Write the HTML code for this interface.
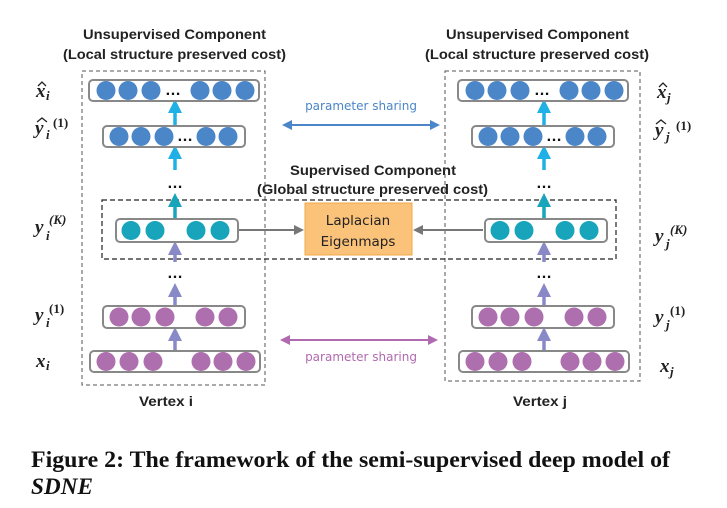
<!DOCTYPE html>
<html><head><meta charset="utf-8"><style>
html,body{margin:0;padding:0;background:#fff;}
svg{display:block;}
.t{font-family:"Liberation Sans",sans-serif;font-weight:bold;font-size:14px;fill:#222;}
.m{font-family:"Liberation Serif",serif;font-style:italic;font-weight:bold;font-size:19px;fill:#222;}
.s{font-family:"Liberation Serif",serif;font-weight:bold;font-size:13px;fill:#222;}
.si{font-family:"Liberation Serif",serif;font-style:italic;font-weight:bold;font-size:13px;fill:#222;}
.ps{font-family:"DejaVu Sans","Liberation Sans",sans-serif;font-size:12px;}
.box{fill:#fff;stroke:#888;stroke-width:2;}
.dots{font-family:"Liberation Sans",sans-serif;font-weight:bold;font-size:16px;fill:#111;}
</style></head><body>
<svg width="727" height="508" viewBox="0 0 727 508" xmlns="http://www.w3.org/2000/svg">
<defs>
<marker id="ac" markerWidth="4" markerHeight="4" refX="2" refY="2" orient="auto" markerUnits="strokeWidth"><path d="M0,0 L4,2 L0,4z" fill="#1fb0e6"/></marker>
<marker id="at" markerWidth="4" markerHeight="4" refX="2" refY="2" orient="auto" markerUnits="strokeWidth"><path d="M0,0 L4,2 L0,4z" fill="#18a4bb"/></marker>
<marker id="ap" markerWidth="4" markerHeight="4" refX="2" refY="2" orient="auto" markerUnits="strokeWidth"><path d="M0,0 L4,2 L0,4z" fill="#8a89c8"/></marker>
<marker id="ag" markerWidth="5" markerHeight="5" refX="3" refY="2.5" orient="auto" markerUnits="strokeWidth"><path d="M0,0 L5,2.5 L0,5z" fill="#777"/></marker>
<marker id="ab" markerWidth="5" markerHeight="5" refX="3" refY="2.5" orient="auto-start-reverse" markerUnits="strokeWidth"><path d="M0,0 L5,2.5 L0,5z" fill="#4a86c8"/></marker>
<marker id="am" markerWidth="5" markerHeight="5" refX="3" refY="2.5" orient="auto-start-reverse" markerUnits="strokeWidth"><path d="M0,0 L5,2.5 L0,5z" fill="#b06aaf"/></marker>
</defs>

<!-- titles -->
<text class="t" x="83" y="39" textLength="183" lengthAdjust="spacingAndGlyphs">Unsupervised Component</text>
<text class="t" x="63" y="59" textLength="223" lengthAdjust="spacingAndGlyphs">(Local structure preserved cost)</text>
<text class="t" x="446" y="39" textLength="183" lengthAdjust="spacingAndGlyphs">Unsupervised Component</text>
<text class="t" x="425" y="59" textLength="224" lengthAdjust="spacingAndGlyphs">(Local structure preserved cost)</text>
<text class="t" x="290" y="175" textLength="166" lengthAdjust="spacingAndGlyphs">Supervised Component</text>
<text class="t" x="257" y="194" textLength="231" lengthAdjust="spacingAndGlyphs">(Global structure preserved cost)</text>

<!-- dashed boxes -->
<rect x="82" y="71" width="183" height="314" fill="none" stroke="#555" stroke-dasharray="4,3" stroke-width="1"/>
<rect x="445" y="71" width="195" height="310" fill="none" stroke="#555" stroke-dasharray="4,3" stroke-width="1"/>
<rect x="102" y="200" width="514" height="59" fill="none" stroke="#222" stroke-dasharray="5,3" stroke-width="1.2"/>

<!-- Laplacian -->
<rect x="305" y="203" width="107" height="52" fill="#fbc279" stroke="#f0a848" stroke-width="1"/>
<text x="358" y="225" text-anchor="middle" style="font-family:'DejaVu Sans','Liberation Sans',sans-serif;font-size:13.5px;fill:#222">Laplacian</text>
<text x="358" y="246" text-anchor="middle" style="font-family:'DejaVu Sans','Liberation Sans',sans-serif;font-size:13.5px;fill:#222">Eigenmaps</text>
<line x1="238" y1="230" x2="300" y2="230" stroke="#777" stroke-width="2" marker-end="url(#ag)"/>
<line x1="483" y1="230" x2="417" y2="230" stroke="#777" stroke-width="2" marker-end="url(#ag)"/>

<!-- parameter sharing -->
<text class="ps" x="361" y="110" text-anchor="middle" fill="#4a86c8">parameter sharing</text>
<line x1="286" y1="125" x2="436" y2="125" stroke="#4a86c8" stroke-width="2" marker-start="url(#ab)" marker-end="url(#ab)"/>
<text class="ps" x="361" y="361" text-anchor="middle" fill="#b06aaf">parameter sharing</text>
<line x1="284" y1="340" x2="434" y2="340" stroke="#b06aaf" stroke-width="2" marker-start="url(#am)" marker-end="url(#am)"/>

<g id="col">
<line x1="175" y1="125" x2="175" y2="106" stroke="#1fb0e6" stroke-width="3.5" marker-end="url(#ac)"/>
<line x1="175" y1="170" x2="175" y2="152" stroke="#1fb0e6" stroke-width="3.5" marker-end="url(#ac)"/>
<line x1="175" y1="219" x2="175" y2="200" stroke="#18a4bb" stroke-width="3.5" marker-end="url(#at)"/>
<line x1="175" y1="262" x2="175" y2="248" stroke="#8a89c8" stroke-width="3.5" marker-end="url(#ap)"/>
<line x1="175" y1="306" x2="175" y2="290" stroke="#8a89c8" stroke-width="3.5" marker-end="url(#ap)"/>
<line x1="175" y1="351" x2="175" y2="334" stroke="#8a89c8" stroke-width="3.5" marker-end="url(#ap)"/>
<text class="dots" x="175" y="188" text-anchor="middle">…</text>
<text class="dots" x="175" y="278" text-anchor="middle">…</text>
<rect class="box" x="89" y="80" width="170" height="21" rx="4"/>
<g fill="#4a86c8"><circle cx="106" cy="90.5" r="9.5"/><circle cx="128" cy="90.5" r="9.5"/><circle cx="151" cy="90.5" r="9.5"/><circle cx="200" cy="90.5" r="9.5"/><circle cx="222" cy="90.5" r="9.5"/><circle cx="245" cy="90.5" r="9.5"/></g>
<text class="dots" x="173" y="95" text-anchor="middle">…</text>
<rect class="box" x="103" y="126" width="142" height="21" rx="4"/>
<g fill="#4a86c8"><circle cx="119" cy="136.5" r="9.5"/><circle cx="141" cy="136.5" r="9.5"/><circle cx="164" cy="136.5" r="9.5"/><circle cx="206" cy="136.5" r="9.5"/><circle cx="228" cy="136.5" r="9.5"/></g>
<text class="dots" x="185" y="141" text-anchor="middle">…</text>
<rect class="box" x="116" y="219" width="122" height="23" rx="4"/>
<g fill="#18a4bb"><circle cx="131" cy="230.5" r="9.5"/><circle cx="155" cy="230.5" r="9.5"/><circle cx="196" cy="230.5" r="9.5"/><circle cx="220" cy="230.5" r="9.5"/></g>
<rect class="box" x="103" y="306" width="142" height="22" rx="4"/>
<g fill="#ad6fad"><circle cx="119" cy="317" r="9.5"/><circle cx="141" cy="317" r="9.5"/><circle cx="165" cy="317" r="9.5"/><circle cx="205" cy="317" r="9.5"/><circle cx="228" cy="317" r="9.5"/></g>
<rect class="box" x="90" y="351" width="170" height="21" rx="4"/>
<g fill="#ad6fad"><circle cx="106" cy="361.5" r="9.5"/><circle cx="129" cy="361.5" r="9.5"/><circle cx="153" cy="361.5" r="9.5"/><circle cx="201" cy="361.5" r="9.5"/><circle cx="223" cy="361.5" r="9.5"/><circle cx="246" cy="361.5" r="9.5"/></g>
</g>
<use href="#col" transform="translate(369,0)"/>

<text class="t" x="139" y="406" textLength="54" lengthAdjust="spacingAndGlyphs">Vertex i</text>
<text class="t" x="513" y="406" textLength="54" lengthAdjust="spacingAndGlyphs">Vertex j</text>

<path d="M38,86 L42,82 L46,86" fill="none" stroke="#222" stroke-width="1.3"/>
<text class="m" x="36" y="97">x</text><text class="si" x="46" y="100">i</text>
<path d="M37,122 L42,118 L47,122" fill="none" stroke="#222" stroke-width="1.3"/>
<text class="m" x="35" y="134">y</text><text class="si" x="46" y="139">i</text><text class="s" x="53" y="127">(1)</text>
<text class="m" x="35" y="233">y</text><text class="si" x="46" y="240">i</text><text class="si" x="49" y="224">(K)</text>
<text class="m" x="35" y="321">y</text><text class="si" x="46" y="327">i</text><text class="s" x="49" y="313">(1)</text>
<text class="m" x="36" y="367">x</text><text class="si" x="46" y="370">i</text>
<path d="M659,87 L663,83 L667,87" fill="none" stroke="#222" stroke-width="1.3"/>
<text class="m" x="657" y="98">x</text><text class="si" x="667" y="102">j</text>
<path d="M656,124 L661,120 L666,124" fill="none" stroke="#222" stroke-width="1.3"/>
<text class="m" x="655" y="136">y</text><text class="si" x="666" y="141">j</text><text class="s" x="676" y="130">(1)</text>
<text class="m" x="655" y="242">y</text><text class="si" x="666" y="248">j</text><text class="si" x="670" y="234">(K)</text>
<text class="m" x="655" y="323">y</text><text class="si" x="666" y="329">j</text><text class="s" x="670" y="315">(1)</text>
<text class="m" x="660" y="372">x</text><text class="si" x="670" y="376">j</text>

<text x="31" y="467" textLength="639" lengthAdjust="spacingAndGlyphs" style="font-family:'Liberation Serif',serif;font-weight:bold;font-size:23px;fill:#111">Figure 2: The framework of the semi-supervised deep model of</text>
<text x="31" y="494" textLength="62" lengthAdjust="spacingAndGlyphs" style="font-family:'Liberation Serif',serif;font-weight:bold;font-style:italic;font-size:23px;fill:#111">SDNE</text>
</svg>
</body></html>
